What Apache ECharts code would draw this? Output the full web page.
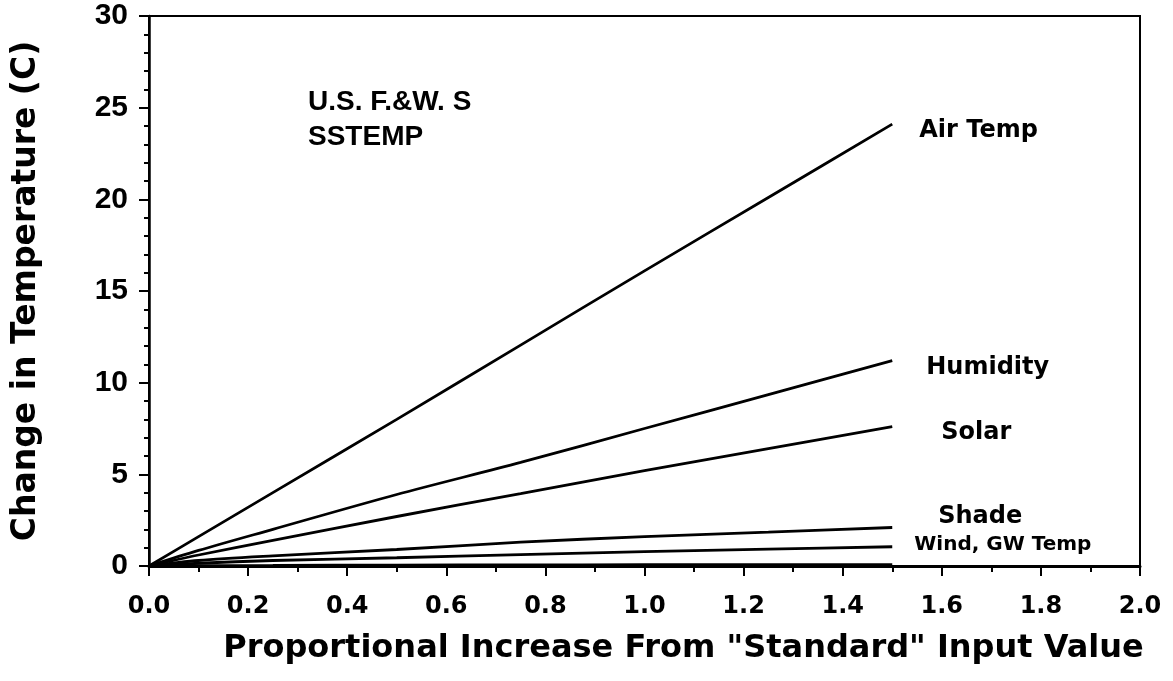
<!DOCTYPE html>
<html>
<head>
<meta charset="utf-8">
<script src="https://cdn.jsdelivr.net/npm/echarts@6/dist/echarts.min.js"></script>
<style>html,body{margin:0;padding:0;background:#fff}#c{width:1173px;height:681px}</style>
</head>
<body>
<div id="c"></div>
<script>
// Data
const xValues   = [0, 0.1, 0.25, 0.5, 0.75, 1.0, 1.25, 1.5];
const airTemp   = [0, 1.6, 4.0, 8.0, 12.05, 16.1, 20.1, 24.1];
const humidity  = [0, 0.85, 2.0, 3.9, 5.65, 7.5, 9.35, 11.2];
const solar     = [0, 0.6, 1.4, 2.7, 3.95, 5.2, 6.4, 7.6];
const shade     = [0, 0.3, 0.55, 0.9, 1.3, 1.6, 1.85, 2.1];
const wind      = [0, 0.15, 0.3, 0.45, 0.62, 0.78, 0.92, 1.05];
const gwTemp    = [0, 0.02, 0.03, 0.05, 0.06, 0.07, 0.08, 0.08];
const seriesNames = ['Air Temp', 'Humidity', 'Solar', 'Shade', 'Wind', 'GW Temp'];
const seriesValues = [airTemp, humidity, solar, shade, wind, gwTemp];
const endLabelTexts = ['Air Temp', 'Humidity', 'Solar', 'Shade', 'Wind, GW Temp', ''];
const xTicks = [0, 0.2, 0.4, 0.6, 0.8, 1.0, 1.2, 1.4, 1.6, 1.8, 2.0];
const yTicks = [0, 5, 10, 15, 20, 25, 30];
const insetText = ['U.S. F.&W. S', 'SSTEMP'];

const labelStyles = [
  {offset: [22, 7], fontSize: 24},
  {offset: [29, 7], fontSize: 24},
  {offset: [44, 6], fontSize: 24},
  {offset: [41, -11], fontSize: 24},
  {offset: [17, -2], fontSize: 20},
  null
];

const chart = echarts.init(document.getElementById('c'), null, {renderer: 'canvas'});
const series = seriesNames.map((name, i) => ({
  name: name,
  type: 'line',
  data: xValues.map((x, j) => [x, seriesValues[i][j]]),
  showSymbol: false,
  smooth: 0.3,
  lineStyle: {color: '#000', width: 2.8},
  z: 3,
  endLabel: labelStyles[i] ? {
    show: true,
    formatter: endLabelTexts[i],
    color: '#000',
    fontFamily: 'DejaVu Sans',
    fontWeight: 'bold',
    fontSize: labelStyles[i].fontSize,
    offset: labelStyles[i].offset,
    distance: 5
  } : {show: false}
}));

chart.setOption({
  animation: false,
  backgroundColor: '#fff',
  title: {
    text: insetText.join('\n'),
    left: 303,
    top: 80,
    textStyle: {
      fontFamily: 'Liberation Sans',
      fontWeight: 'bold',
      fontSize: 28,
      lineHeight: 35,
      color: '#000'
    }
  },
  grid: {
    left: 149, right: 33, top: 16, bottom: 115,
    show: true, borderColor: '#000', borderWidth: 2
  },
  xAxis: {
    type: 'value',
    min: 0, max: 2, interval: 0.2,
    name: 'Proportional Increase From "Standard" Input Value',
    nameLocation: 'middle',
    nameGap: 67,
    nameTextStyle: {
      fontFamily: 'DejaVu Sans', fontWeight: 'bold', fontSize: 32, color: '#000',
      padding: [0, 0, 0, 78]
    },
    axisLine: {show: true, lineStyle: {color: '#000', width: 3}},
    axisTick: {show: true, inside: false, length: 10, lineStyle: {color: '#000', width: 2}},
    minorTick: {show: true, splitNumber: 2, length: 6, lineStyle: {color: '#000', width: 2}},
    splitLine: {show: false},
    axisLabel: {
      margin: 29,
      color: '#000', fontFamily: 'DejaVu Sans', fontWeight: 'bold', fontSize: 24,
      formatter: v => xTicks.some(t => Math.abs(t - v) < 1e-9) ? v.toFixed(1) : ''
    }
  },
  yAxis: {
    type: 'value',
    min: 0, max: 30, interval: 5,
    name: 'Change in Temperature (C)',
    nameLocation: 'middle',
    nameGap: 106,
    nameTextStyle: {
      fontFamily: 'DejaVu Sans', fontWeight: 'bold', fontSize: 33, color: '#000'
    },
    axisLine: {show: true, lineStyle: {color: '#000', width: 2.5}},
    axisTick: {show: true, inside: false, length: 10, lineStyle: {color: '#000', width: 2}},
    minorTick: {show: true, splitNumber: 5, length: 5, lineStyle: {color: '#000', width: 2}},
    splitLine: {show: false},
    axisLabel: {
      margin: 21,
      color: '#000', fontFamily: 'Liberation Sans', fontWeight: 'bold', fontSize: 30,
      formatter: v => yTicks.includes(v) ? String(v) : ''
    }
  },
  series: series
});
</script>
</body>
</html>
